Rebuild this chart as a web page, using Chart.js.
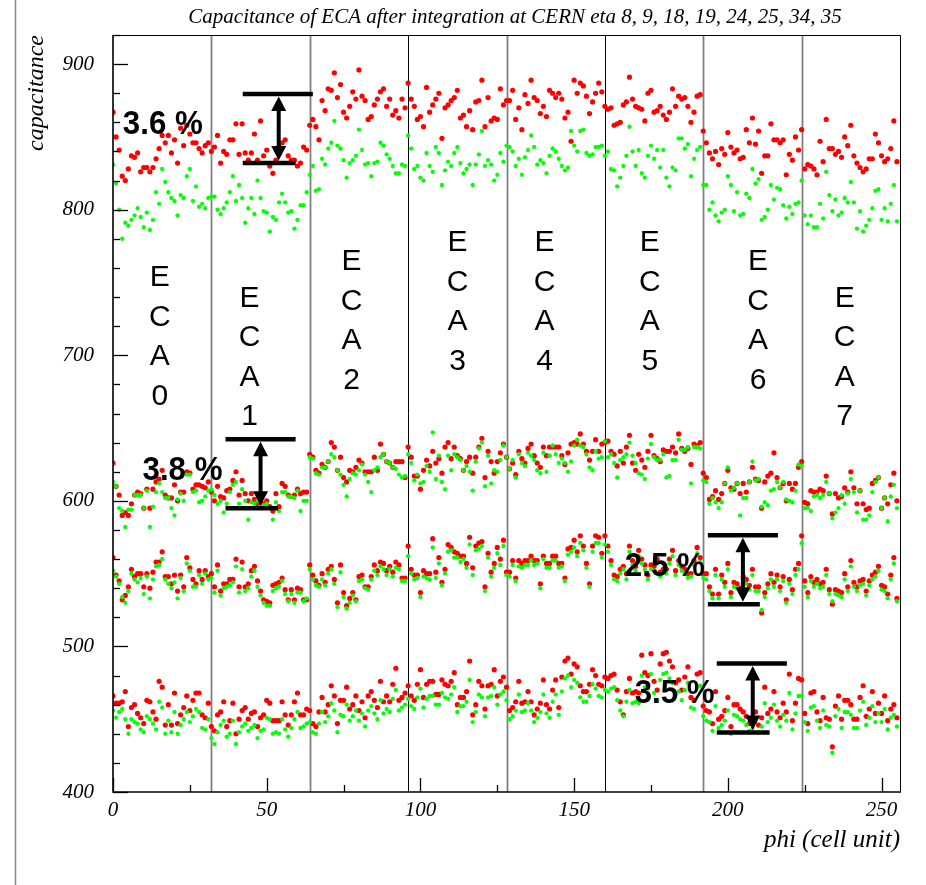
<!DOCTYPE html>
<html>
<head>
<meta charset="utf-8">
<script src="https://cdn.jsdelivr.net/npm/chart.js@4"></script>
<style>
  html, body { margin: 0; padding: 0; background: #fff; }
  #wrap { width: 926px; height: 885px; position: relative; }
</style>
</head>
<body>
<div id="wrap"><canvas id="chart"></canvas></div>
<script>
// capacitance per phi cell (index = phi), 32 cells per ECA module
const topRed = [
  867,850,841,823,820,828,837,836,839,826,829,829,826,829,835,842,851,846,851,839,848,832,856,844,858,852,846,846,842,839,844,846,
  840,843,851,832,840,838,848,848,859,838,859,839,834,839,852,834,861,837,841,830,825,834,843,846,848,837,834,834,830,832,843,841,
  858,862,857,848,875,868,883,882,894,877,886,867,863,871,881,876,896,878,875,862,864,872,876,881,883,871,876,865,868,863,876,870,
  887,876,871,862,864,857,884,867,872,876,880,849,870,872,875,877,882,863,865,857,868,855,874,875,889,857,877,861,863,862,883,872,
  875,875,882,862,870,855,879,873,889,877,875,866,871,864,882,880,877,880,876,863,867,847,889,880,887,885,878,866,874,880,887,881,
  871,869,870,858,859,860,872,874,891,876,871,870,869,861,880,882,867,868,871,865,862,867,883,871,878,876,877,871,860,867,878,879,
  854,846,839,835,840,831,842,838,853,843,839,841,835,836,855,846,863,845,854,825,837,837,859,848,848,846,848,824,838,834,850,841,
  855,828,831,830,828,824,847,833,862,842,842,838,840,836,850,844,858,837,832,829,826,828,835,835,852,846,837,833,835,842,861,833
];
const topGreen = [
  831,818,800,780,791,789,793,796,801,795,788,798,786,793,812,804,828,819,812,808,806,796,810,808,823,828,806,816,802,804,801,808,
  809,809,800,797,801,805,812,823,806,817,808,791,801,808,797,820,808,799,798,785,795,793,805,811,805,798,799,787,793,803,803,812,
  824,830,813,814,835,831,842,846,861,844,842,834,822,832,834,837,855,841,831,832,823,832,833,846,844,838,835,830,825,825,831,830,
  851,842,828,830,822,820,839,830,826,843,839,817,827,833,830,839,843,832,825,828,831,817,831,838,854,830,834,831,820,824,839,833,
  844,843,840,830,835,824,836,841,851,843,831,834,832,825,837,842,840,835,830,827,829,854,844,840,854,855,839,837,838,843,843,844,
  837,840,828,827,816,822,830,837,857,840,830,841,825,822,837,844,835,841,829,841,822,816,829,827,849,849,842,845,823,835,841,843,
  817,817,800,805,796,792,798,800,823,817,799,812,796,797,811,808,828,818,821,793,795,800,817,807,815,814,803,794,802,797,804,805,
  820,796,790,796,788,788,804,794,826,810,799,807,796,798,808,805,819,805,787,799,785,789,793,801,813,814,793,801,792,804,817,792
];
const band2Red = [
  626,610,604,590,592,590,598,604,606,605,595,608,595,608,613,615,621,604,602,602,611,600,606,606,620,619,608,611,611,610,609,613,
  606,600,610,603,602,607,608,614,620,604,614,605,600,605,601,598,600,598,600,596,593,605,596,612,610,604,603,604,608,605,606,606,
  632,630,621,619,625,623,627,640,637,621,630,616,613,621,620,623,628,626,620,620,620,630,621,639,632,627,626,623,627,627,627,616,
  637,630,617,617,608,621,628,624,634,626,629,619,637,640,629,637,631,629,621,627,630,619,630,637,643,616,634,627,619,627,633,639,
  630,622,626,618,634,629,626,636,639,631,626,623,637,631,637,637,637,637,631,625,633,639,640,639,646,639,634,628,634,642,634,639,
  640,641,634,632,624,634,626,637,645,626,621,632,628,623,634,645,631,629,627,635,634,634,637,633,646,636,634,636,625,639,638,640,
  619,616,601,603,607,601,605,612,621,609,608,612,605,612,606,613,623,615,614,595,613,617,619,633,616,609,612,600,612,608,612,623,
  627,599,598,607,606,606,608,607,617,605,591,605,602,603,609,606,620,609,598,607,598,594,595,612,614,616,595,602,598,611,619,600
];
const band2Green = [
  613,610,595,593,582,594,594,604,604,604,595,607,582,596,606,612,606,602,602,595,590,601,605,600,618,618,606,607,599,600,603,607,
  608,604,598,600,592,598,606,611,613,598,608,600,587,599,598,600,596,597,598,595,587,599,593,606,606,603,603,602,607,593,600,600,
  630,629,619,618,623,623,627,632,630,621,618,611,603,615,619,618,621,625,618,613,606,621,623,630,632,627,626,623,622,618,616,617,
  632,626,614,618,612,613,624,620,647,615,631,613,608,631,621,632,630,628,621,624,620,607,627,636,640,610,631,612,621,620,628,638,
  630,622,628,616,632,626,624,633,631,628,621,619,633,620,631,638,632,626,629,626,620,627,638,642,638,637,632,623,621,634,629,630,
  641,630,632,626,616,628,630,632,640,631,626,619,618,615,629,639,630,628,628,632,616,617,628,628,642,635,635,637,612,637,637,636,
  614,613,598,602,599,595,599,612,623,607,609,612,590,602,602,613,627,614,615,596,599,597,607,608,613,609,613,601,600,599,607,625,
  624,595,595,593,603,604,602,604,613,605,588,592,595,604,598,605,615,606,592,607,587,587,590,606,613,616,595,602,586,603,611,595
];
const band3Red = [
  561,549,545,532,535,541,553,548,550,550,541,550,540,551,558,558,565,548,548,543,549,538,549,541,561,554,546,543,552,546,552,548,
  550,541,556,538,543,543,546,546,560,541,558,541,543,552,555,545,538,532,531,530,542,543,544,547,539,532,539,532,540,539,532,532,
  556,549,545,542,550,544,553,555,546,530,556,537,528,533,537,532,548,549,541,541,548,556,552,558,557,552,555,551,558,556,547,547,
  569,553,549,549,537,552,550,550,574,551,561,544,553,570,568,565,564,562,562,557,575,554,569,571,572,541,564,551,557,568,560,573,
  551,551,559,547,559,557,559,559,562,559,559,543,562,557,557,562,562,557,557,547,567,568,573,565,576,569,557,543,569,576,575,564,
  576,569,559,549,548,553,555,550,569,559,555,566,560,556,549,556,555,560,551,553,553,560,566,552,559,555,553,550,550,559,568,561,
  550,550,541,536,553,536,549,544,557,537,544,543,540,548,546,542,553,541,541,523,537,543,550,544,549,541,548,532,546,539,553,557,
  576,545,537,548,544,546,543,544,553,539,529,539,538,537,550,541,559,544,541,545,546,538,545,549,551,555,542,541,536,549,561,533
];
const band3Green = [
  552,548,543,534,530,538,550,546,544,547,536,548,533,546,555,556,560,546,543,540,544,533,547,538,557,552,541,541,549,543,550,546,
  547,537,552,535,540,541,542,544,555,537,553,538,540,548,552,541,535,530,528,528,538,540,541,545,536,531,536,530,537,537,531,533,
  553,546,542,541,546,542,550,553,543,527,551,534,526,530,535,531,545,546,540,539,546,552,549,555,553,549,553,548,554,553,545,545,
  562,550,546,547,534,548,547,546,568,547,557,542,550,565,566,561,561,558,560,554,570,549,566,567,569,538,561,548,554,564,556,569,
  549,548,556,545,555,554,556,556,559,556,557,540,560,554,554,559,559,554,555,545,563,565,568,562,571,566,554,541,565,571,571,561,
  570,565,556,546,545,550,553,546,565,556,552,562,557,553,546,553,552,557,548,551,550,557,562,549,556,552,550,547,548,556,564,558,
  547,546,538,533,549,533,546,541,553,534,541,540,537,545,543,539,549,538,538,525,534,540,546,541,546,538,545,530,543,536,549,553,
  571,541,534,545,541,543,540,541,549,536,531,536,535,534,546,538,555,541,538,542,543,535,542,546,548,552,539,538,533,546,557,531
];
const band4Red = [
  466,461,461,462,469,445,458,460,454,451,447,463,462,455,450,476,472,446,460,446,468,447,453,458,466,456,463,468,468,453,451,461,
  445,442,453,455,462,445,449,461,440,450,456,458,450,454,455,445,451,453,463,461,449,449,449,462,453,446,453,462,468,453,453,457,
  456,447,445,455,465,455,460,473,466,447,463,463,472,457,460,466,456,462,451,466,469,463,458,476,462,466,462,474,485,463,465,468,
  473,466,463,474,484,465,474,476,476,467,467,477,474,473,476,482,460,465,465,469,490,453,460,476,473,457,473,474,484,466,476,479,
  472,456,458,462,476,461,462,469,462,453,457,461,477,460,457,470,477,458,479,490,492,481,488,486,473,469,469,474,484,480,474,473,
  479,478,480,481,470,462,453,469,478,468,469,468,494,482,480,495,476,470,488,495,496,490,486,475,477,470,479,486,465,463,481,482,
  459,456,455,447,469,450,452,456,465,445,460,460,457,455,452,447,450,455,446,451,472,454,457,469,455,451,461,455,481,449,461,478,
  477,454,447,468,469,455,449,465,451,450,431,459,466,450,463,463,460,450,450,465,473,452,457,469,454,461,454,466,449,457,460,451
];
const band4Green = [
  456,451,455,457,450,440,450,448,447,443,441,452,450,447,443,462,458,440,449,441,455,440,446,450,455,448,452,457,455,444,443,450,
  437,433,441,446,449,438,440,449,433,441,445,447,442,444,446,437,442,443,451,450,440,441,440,450,443,438,444,450,455,444,445,447,
  448,441,440,447,455,448,452,461,456,441,453,452,460,449,452,456,449,454,445,456,459,454,450,463,454,457,455,464,470,456,458,460,
  464,459,457,465,471,458,464,466,466,460,460,468,465,464,467,472,455,459,459,462,477,448,455,467,465,452,465,466,472,460,467,469,
  463,450,452,456,467,455,456,461,456,448,451,455,467,454,451,462,467,453,469,478,480,472,477,475,465,462,462,466,474,471,466,465,
  470,469,471,472,463,456,452,462,470,461,462,461,480,472,471,481,468,463,477,481,482,478,475,467,469,463,470,475,458,457,472,473,
  452,449,448,442,459,444,446,449,456,440,453,452,450,449,446,442,444,448,441,445,461,448,451,460,449,445,453,449,468,443,454,466,
  466,448,442,458,459,449,444,456,446,445,427,452,457,444,455,455,453,444,444,456,462,446,451,459,448,454,448,457,443,451,453,445
];

const xTickLabels = [0, 50, 100, 150, 200, 250];
const yTickLabels = [400, 500, 600, 700, 800, 900];
const moduleEdges = [32, 64, 96, 128, 160, 192, 224];
const moduleNames = ['0', '1', '2', '3', '4', '5', '6', '7'];
const spreadLabels = ['3.6 %', '3.8 %', '2.5 %', '3.5 %'];

const toPoints = arr => arr.map((v, i) => ({ x: i, y: v }));

// where the ECA names and spread markers sit (data units)
const moduleTextPos = [[15.2, 753], [44.4, 739], [77.6, 764], [112.1, 777],
                       [140.4, 777], [174.6, 777], [209.8, 764], [238.0, 739]];
const spreadPos = [
  { tx: 3.2,   ty: 859, x0: 42.2,  xTop: 65.0,  xBot: 59.4,  xa: 53.9,  top: 879.4, bot: 832.0 },
  { tx: 9.6,   ty: 621.6, x0: 36.6, xTop: 59.4, xBot: 53.7,  xa: 48.0,  top: 642.3, bot: 595.0 },
  { tx: 166.5, ty: 555.7, x0: 193.5, xTop: 216.3, xBot: 210.4, xa: 204.9, top: 576.3, bot: 528.9 },
  { tx: 169.7, ty: 468.0, x0: 196.4, xTop: 219.2, xBot: 213.6, xa: 208.1, top: 488.3, bot: 440.9 }
];
const darkEdges = [96, 160];

const serifItalic = size => 'italic ' + size + 'px "Liberation Serif", "DejaVu Serif", serif';

const rootLook = {
  id: 'rootLook',
  beforeDatasetsDraw(chart) {
    const { ctx, chartArea: a, scales: { x } } = chart;
    ctx.save();
    // thin page border on the left
    ctx.strokeStyle = '#888';
    ctx.lineWidth = 1.5;
    ctx.beginPath(); ctx.moveTo(15.5, 0); ctx.lineTo(15.5, 885); ctx.stroke();
    moduleEdges.forEach(e => {
      const px = Math.round(x.getPixelForValue(e)) + 0.5;
      const dark = darkEdges.includes(e);
      ctx.strokeStyle = dark ? '#000' : '#808080';
      ctx.lineWidth = dark ? 1 : 1.8;
      ctx.beginPath(); ctx.moveTo(px, a.top); ctx.lineTo(px, a.bottom); ctx.stroke();
    });
    ctx.restore();
  },
  afterDatasetsDraw(chart) {
    const { ctx, chartArea: a, scales: { x, y } } = chart;
    ctx.save();
    ctx.fillStyle = '#000';
    ctx.strokeStyle = '#000';

    // frame
    ctx.lineWidth = 1;
    ctx.beginPath();
    ctx.moveTo(a.left, a.top + 0.5); ctx.lineTo(a.right + 0.5, a.top + 0.5); ctx.lineTo(a.right + 0.5, a.bottom);
    ctx.stroke();
    ctx.lineWidth = 1.6;
    ctx.beginPath();
    ctx.moveTo(a.left, a.top); ctx.lineTo(a.left, a.bottom); ctx.lineTo(a.right + 1, a.bottom);
    ctx.stroke();

    // y ticks (inside), major every 100, minor every 20
    ctx.lineWidth = 1.3;
    for (let v = 400; v <= 920; v += 20) {
      const py = Math.round(y.getPixelForValue(v)) + 0.5;
      const len = v % 100 === 0 ? 15 : 7;
      ctx.beginPath(); ctx.moveTo(a.left, py); ctx.lineTo(a.left + len, py); ctx.stroke();
    }
    // x ticks (inside), major every 50, minor between
    for (let v = 0; v <= 256; v += 25) {
      const px = Math.round(x.getPixelForValue(v)) + 0.5;
      const len = v % 50 === 0 ? 14 : 7;
      ctx.beginPath(); ctx.moveTo(px, a.bottom); ctx.lineTo(px, a.bottom - len); ctx.stroke();
    }

    // tick labels
    ctx.font = serifItalic(21);
    ctx.textAlign = 'right';
    ctx.textBaseline = 'middle';
    yTickLabels.forEach(v => ctx.fillText(String(v), 94, y.getPixelForValue(v)));
    ctx.textAlign = 'center';
    xTickLabels.forEach(v => ctx.fillText(String(v), x.getPixelForValue(v), 810));

    // titles
    ctx.font = serifItalic(21);
    ctx.fillText('Capacitance of ECA after integration at CERN eta 8, 9, 18, 19, 24, 25, 34, 35', 515, 17);
    ctx.font = serifItalic(25);
    ctx.textAlign = 'right';
    ctx.fillText('phi (cell unit)', 900, 840);
    ctx.save();
    ctx.translate(43, a.top);
    ctx.rotate(-Math.PI / 2);
    ctx.font = serifItalic(24);
    ctx.textBaseline = 'alphabetic';
    ctx.fillText('capacitance', 0, 0);
    ctx.restore();

    // ECA module names, written vertically
    ctx.font = '30px "Liberation Sans", Arial, sans-serif';
    ctx.textAlign = 'center';
    ctx.textBaseline = 'middle';
    moduleNames.forEach((n, i) => {
      const cx = x.getPixelForValue(moduleTextPos[i][0]);
      const cy = y.getPixelForValue(moduleTextPos[i][1]);
      ['E', 'C', 'A', n].forEach((ch, k) => ctx.fillText(ch, cx, cy + k * 39.5));
    });

    // spread markers
    spreadLabels.forEach((lab, i) => {
      const s = spreadPos[i];
      const yT = y.getPixelForValue(s.top), yB = y.getPixelForValue(s.bot);
      const x0 = x.getPixelForValue(s.x0), xa = x.getPixelForValue(s.xa);
      ctx.lineWidth = 4.5;
      ctx.beginPath();
      ctx.moveTo(x0, yT); ctx.lineTo(x.getPixelForValue(s.xTop), yT);
      ctx.moveTo(x0, yB); ctx.lineTo(x.getPixelForValue(s.xBot), yB);
      ctx.stroke();
      ctx.lineWidth = 4;
      ctx.beginPath(); ctx.moveTo(xa, yT + 14); ctx.lineTo(xa, yB - 14); ctx.stroke();
      ctx.beginPath();
      ctx.moveTo(xa, yT + 2.5); ctx.lineTo(xa - 7.5, yT + 17); ctx.lineTo(xa + 7.5, yT + 17); ctx.closePath();
      ctx.moveTo(xa, yB - 2.5); ctx.lineTo(xa - 7.5, yB - 17); ctx.lineTo(xa + 7.5, yB - 17); ctx.closePath();
      ctx.fill();

      ctx.save();
      ctx.translate(x.getPixelForValue(s.tx), y.getPixelForValue(s.ty));
      ctx.scale(0.92, 1);
      ctx.font = 'bold 34px "Liberation Sans", Arial, sans-serif';
      ctx.textAlign = 'left';
      ctx.textBaseline = 'middle';
      ctx.fillText(lab, 0, 1);
      ctx.restore();
    });
    ctx.restore();
  }
};

const redSet = (label, arr) => ({
  label, data: toPoints(arr), order: 2, clip: 0,
  pointStyle: 'circle', pointRadius: 2.6, pointBorderWidth: 0,
  pointBackgroundColor: '#ff0000', pointBorderColor: '#ff0000', showLine: false
});
const greenSet = (label, arr) => ({
  label, data: toPoints(arr), order: 1, clip: 0,
  pointStyle: 'star', pointRadius: 2.2, pointBorderWidth: 1.2,
  pointBackgroundColor: '#00ff00', pointBorderColor: '#00ff00', showLine: false
});

new Chart(document.getElementById('chart'), {
  type: 'scatter',
  data: {
    datasets: [
      redSet('top red', topRed), greenSet('top green', topGreen),
      redSet('band 2 red', band2Red), greenSet('band 2 green', band2Green),
      redSet('band 3 red', band3Red), greenSet('band 3 green', band3Green),
      redSet('band 4 red', band4Red), greenSet('band 4 green', band4Green)
    ]
  },
  options: {
    responsive: true,
    maintainAspectRatio: false,
    animation: false,
    devicePixelRatio: 1,
    layout: { padding: { left: 113, right: 26, top: 35, bottom: 93 } },
    scales: {
      x: { type: 'linear', min: 0, max: 256, display: false },
      y: { type: 'linear', min: 400, max: 920, display: false }
    },
    plugins: { legend: { display: false }, tooltip: { enabled: false } },
    events: []
  },
  plugins: [rootLook]
});
</script>
</body>
</html>
